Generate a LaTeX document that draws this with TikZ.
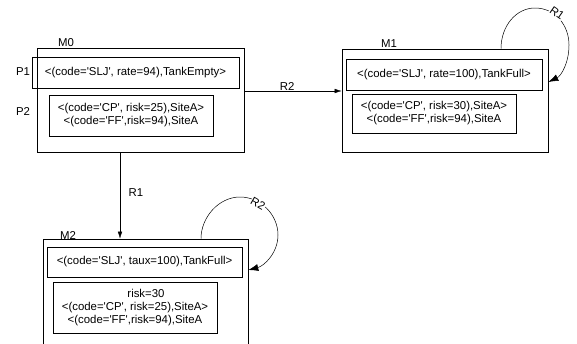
\documentclass[tikz,border=0pt]{standalone}
\usepackage{fontspec}
\setmainfont{Liberation Sans}[Ligatures=TeXOff]
\usetikzlibrary{arrows.meta}

\tikzset{
  place/.style={draw, line width=0.6pt, inner sep=0pt},
  token/.style={draw, line width=0.6pt, align=center, inner sep=0pt},
  lbl/.style={inner sep=0pt},
  trans/.style={-{Latex[length=7pt,width=4.5pt]}, line width=0.5pt},
  loopy/.style={-{Latex[length=10pt,width=7pt]}, line width=0.5pt},
}

\begin{document}
\begin{tikzpicture}[x=1pt,y=-1pt,font=\fontsize{11.4}{13}\selectfont]
\useasboundingbox (0,0) rectangle (577,343);
\clip (0,0) rectangle (577,343);

% marking M0
\node[place, minimum width=207pt, minimum height=104pt] (m0) at (140.5,100) {};
\node[token, minimum width=207pt, minimum height=31pt] (m0p1) at (135.5,72.5) {<(code='SLJ', rate=94),TankEmpty>};
\node[token, minimum width=164pt, minimum height=41pt] (m0p2) at (131,115.5) {<(code='CP', risk=25),SiteA>\\<(code='FF',risk=94),SiteA};
\node[lbl] (lm0) at (66,43) {M0};
\node[lbl] (lp1) at (23,72) {P1};
\node[lbl] (lp2) at (23,112) {P2};

% marking M1
\node[place, minimum width=206pt, minimum height=103pt] (m1) at (445,100.5) {};
\node[token, minimum width=196pt, minimum height=31pt] (m1p1) at (444,74.5) {<(code='SLJ', rate=100),TankFull>};
\node[token, minimum width=164pt, minimum height=39pt] (m1p2) at (434,113.5) {<(code='CP', risk=30),SiteA>\\<(code='FF',risk=94),SiteA};
\node[lbl] (lm1) at (389,44) {M1};

% marking M2
\node[place, minimum width=205pt, minimum height=111pt] (m2) at (145.5,294.5) {};
\node[token, minimum width=195pt, minimum height=30pt] (m2p1) at (144.5,262) {<(code='SLJ', taux=100),TankFull>};
\node[token, minimum width=164pt, minimum height=51pt] (m2p2) at (135,307.5) {\hspace*{22pt}risk=30\\<(code='CP', risk=25),SiteA>\\<(code='FF',risk=94),SiteA};
\node[lbl] (lm2) at (68,236) {M2};

% transitions
\draw[trans] ([yshift=9pt]m0.east) -- ([yshift=9pt]m0.east -| m1.west)
  node[pos=0.44, above, inner sep=0.5pt] (r2a) {R2};
\draw[trans] ([xshift=-20.5pt]m0.south) -- ([xshift=-20.5pt]m0.south |- m2.north);
\node[lbl] (r1a) at (136,193) {R1};

\draw[loopy] ([xshift=56pt]m1.north) .. controls (501,26) and (516,8) .. (535,8)
  .. controls (555,8) and (569,25) .. (569,45)
  .. controls (569,63) and (561,76) .. ([yshift=18.5pt]m1.east);
\node[lbl, fill=white, inner sep=0.5pt, rotate=-35] (r1b) at (557,13) {R1};

\draw[loopy] ([xshift=55.5pt]m2.north) .. controls (201,217) and (219,197) .. (240,197)
  .. controls (261,197) and (278,215) .. (278,235)
  .. controls (278,253) and (264,266) .. ([yshift=24.5pt]m2.east);
\node[lbl, fill=white, inner sep=0.5pt, rotate=-30] (r2b) at (258,204) {R2};
\end{tikzpicture}
\end{document}
